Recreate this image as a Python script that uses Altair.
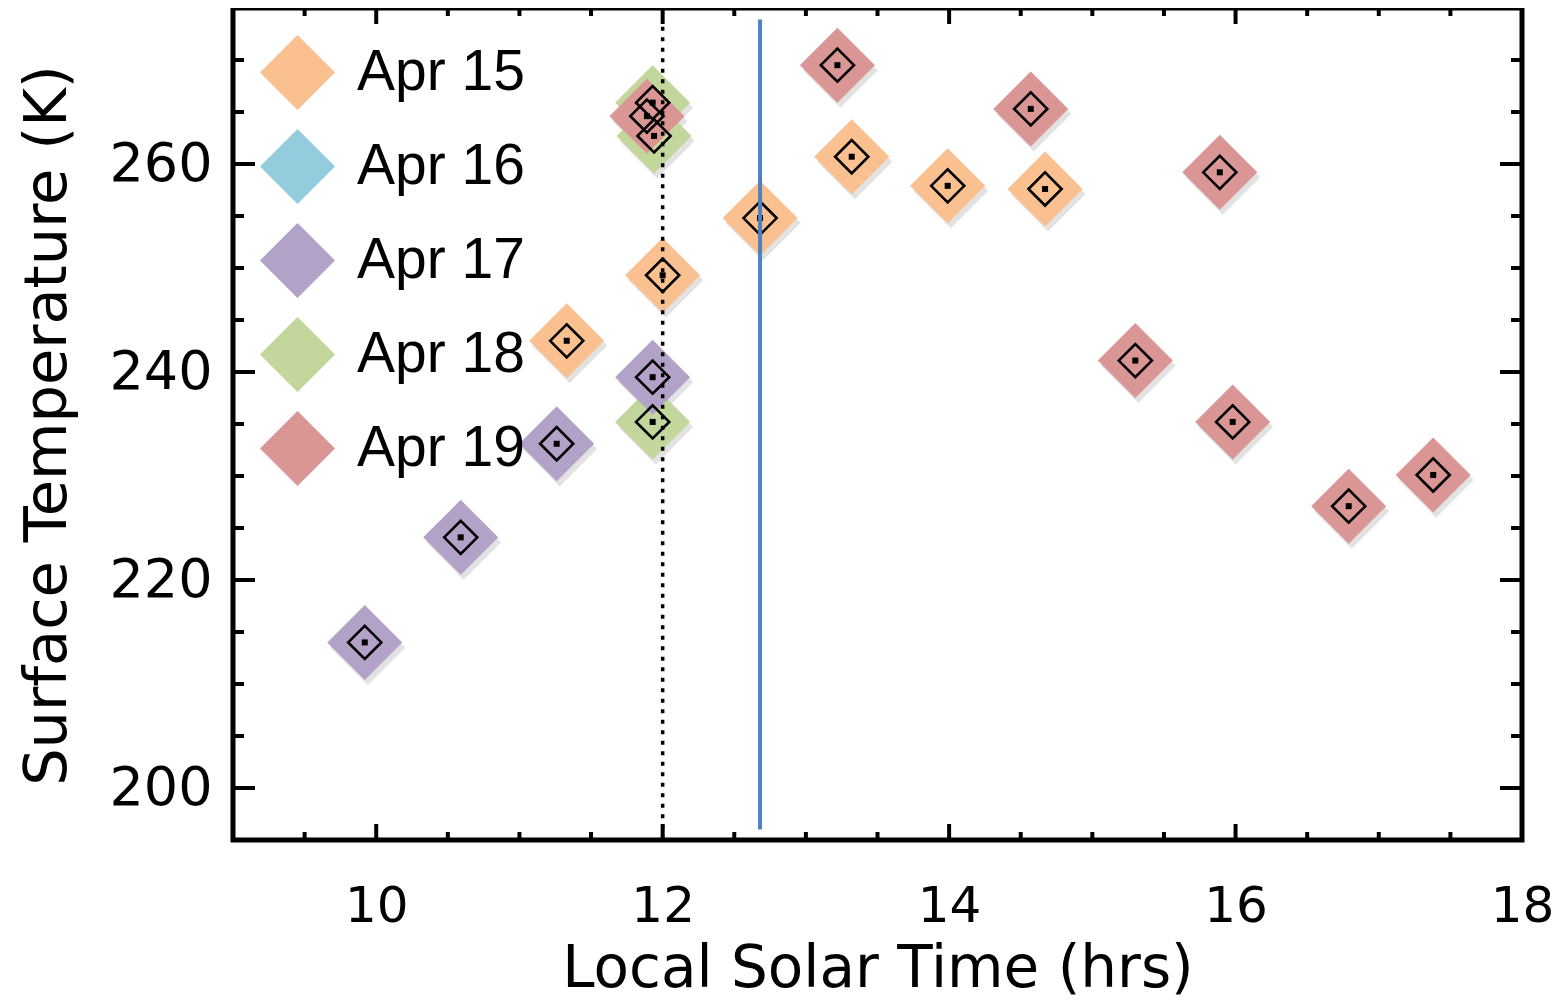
import altair as alt
import pandas as pd

# ---------------- data ----------------
dates = ["Apr 15", "Apr 16", "Apr 17", "Apr 18", "Apr 19"]
colors = ["#FAC090", "#93CDDD", "#B3A2C7", "#C3D69B", "#D99694"]

apr15_time = [11.33, 12.00, 12.68, 13.32, 13.99, 14.67]
apr15_temp = [243.0, 249.3, 254.8, 260.7, 257.9, 257.6]
apr18_time = [11.93, 11.94, 11.93]
apr18_temp = [265.9, 262.7, 235.2]
apr17_time = [9.92, 10.59, 11.26, 11.93]
apr17_temp = [214.0, 224.1, 233.1, 239.5]
apr19_time = [11.89, 13.22, 14.57, 15.89, 15.30, 15.98, 16.79, 17.38]
apr19_temp = [264.6, 269.5, 265.3, 259.2, 241.1, 235.2, 227.1, 230.1]

# vertical reference lines
noon_time = [12.0]
noon_top = [273.2]
noon_bottom = [195.0]
sub_time = [12.68]
sub_top = [273.9]
sub_bottom = [196.0]

x_labels = [10, 12, 14, 16, 18]
y_labels = [200, 220, 240, 260]
x_major = [10, 12, 14, 16]
x_minor = [9.5, 10.5, 11, 11.5, 12.5, 13, 13.5, 14.5, 15, 15.5, 16.5, 17, 17.5]
y_major = [200, 220, 240, 260]
y_minor = [205, 210, 215, 225, 230, 235, 245, 250, 255, 265, 270]

# ---------------- tables ----------------
rows = []
for name, ts, vs in [("Apr 15", apr15_time, apr15_temp),
                     ("Apr 18", apr18_time, apr18_temp),
                     ("Apr 17", apr17_time, apr17_temp),
                     ("Apr 19", apr19_time, apr19_temp)]:
    for t, v in zip(ts, vs):
        rows.append({"date": name, "time": t, "temp": v})
df = pd.DataFrame(rows)

W, H = 1289, 832
AX_FONT = "DejaVu Sans"

xscale = alt.Scale(domain=[9, 18], nice=False, zero=False)
yscale = alt.Scale(domain=[195, 275], nice=False, zero=False)

xaxis = alt.Axis(title="Local Solar Time (hrs)", values=x_labels, format="d", grid=False,
                 domain=False, ticks=False, tickSize=0, labelFont=AX_FONT, labelFontSize=50,
                 labelColor="black", labelPadding=41, labelFlush=False, labelOverlap=False,
                 titleFont=AX_FONT, titleFontSize=58, titleFontWeight="normal", titleColor="black",
                 titleY=146, titleBaseline="alphabetic")
yaxis = alt.Axis(title="Surface Temperature (K)", values=y_labels, format="d", grid=False,
                 domain=False, ticks=False, tickSize=0, labelFont=AX_FONT, labelFontSize=54,
                 labelColor="black", labelPadding=21, labelFlush=False, labelOverlap=False,
                 titleFont=AX_FONT, titleFontSize=59, titleFontWeight="normal", titleColor="black",
                 titleX=-168, titleY=417, titleAngle=270, titleAlign="center",
                 titleBaseline="alphabetic")


def X(field="time"):
    return alt.X(f"{field}:Q", scale=xscale, axis=xaxis)


def Y(field="temp"):
    return alt.Y(f"{field}:Q", scale=yscale, axis=yaxis)


base = alt.Chart(df).encode(x=X(), y=Y())

shadow = base.mark_point(shape="diamond", filled=True, size=5625, color="#7a7a7a",
                         opacity=0.22, strokeWidth=0, xOffset=3, yOffset=5)
fill = base.mark_point(shape="diamond", filled=True, size=5625, opacity=1, strokeWidth=0).encode(
    color=alt.Color("date:N",
                    scale=alt.Scale(domain=dates, range=colors),
                    legend=alt.Legend(title=None, orient="none", legendX=27, legendY=27,
                                      symbolType="diamond", symbolSize=5625, symbolStrokeWidth=0,
                                      symbolOpacity=1, labelFontSize=57,
                                      labelFont="Liberation Sans", labelColor="black",
                                      labelOffset=22, rowPadding=19, padding=0,
                                      labelLimit=400))
)
outline = base.mark_point(shape="diamond", filled=False, size=1100, color="black",
                          strokeWidth=2.6, opacity=1)
dot = base.mark_point(shape="square", filled=True, size=36, color="black", opacity=1)

noon_df = pd.DataFrame({"time": noon_time, "top": noon_top, "bottom": noon_bottom})
sub_df = pd.DataFrame({"time": sub_time, "top": sub_top, "bottom": sub_bottom})

noon = alt.Chart(noon_df).mark_rule(color="black", strokeWidth=3.5, strokeDash=[4, 6.5]).encode(
    x=X(), y=Y("top"), y2="bottom:Q")
sub = alt.Chart(sub_df).mark_rule(color="#4F81BD", strokeWidth=4).encode(
    x=X(), y=Y("top"), y2="bottom:Q")


def yticks(vals, length):
    d = alt.Chart(pd.DataFrame({"temp": vals}))
    left = d.mark_rule(color="black", strokeWidth=4).encode(
        y=Y(), x=alt.value(0), x2=alt.value(length))
    right = d.mark_rule(color="black", strokeWidth=4).encode(
        y=Y(), x=alt.value(W), x2=alt.value(W - length))
    return [left, right]


def xticks(vals, length):
    d = alt.Chart(pd.DataFrame({"time": vals}))
    bottom = d.mark_rule(color="black", strokeWidth=4).encode(
        x=X(), y=alt.value(H), y2=alt.value(H - length))
    top = d.mark_rule(color="black", strokeWidth=4).encode(
        x=X(), y=alt.value(0), y2=alt.value(length))
    return [bottom, top]


tick_layers = yticks(y_major, 22) + yticks(y_minor, 11) + xticks(x_major, 16) + xticks(x_minor, 8)

chart = alt.layer(shadow, fill, outline, dot, noon, sub, *tick_layers).properties(
    width=W, height=H,
    background="white",
    autosize=alt.AutoSizeParams(type="none"),
    padding={"left": 225, "top": 0, "right": 32, "bottom": 159},
).configure_view(stroke="black", strokeWidth=5)

chart.save("out.html", embed_options={"renderer": "svg", "actions": False})
